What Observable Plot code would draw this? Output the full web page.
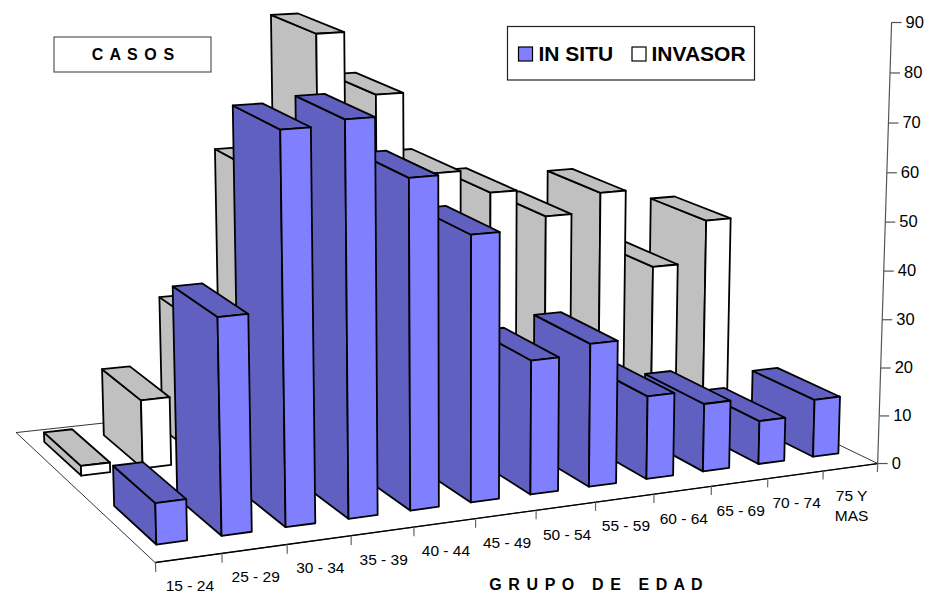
<!DOCTYPE html>
<html>
<head>
<meta charset="utf-8">
<script src="https://cdn.jsdelivr.net/npm/d3@7"></script>
<script src="https://cdn.jsdelivr.net/npm/@observablehq/plot@0.6"></script>
<style>
html,body{margin:0;padding:0;background:#fff}
svg{display:block}
</style>
</head>
<body>
<div id="chart"></div>
<script>
const categories = ["15 - 24","25 - 29","30 - 34","35 - 39","40 - 44","45 - 49","50 - 54","55 - 59","60 - 64","65 - 69","70 - 74","75 Y\nMAS"];
const inSitu  = [8,42,76,77,65,53,27,29,17,14,9,12];
const invasor = [2,14,28,58,85,72,55,50,44,48,31,40];
const valueTicks = [0,10,20,30,40,50,60,70,80,90];
const axisTitle = "G R U P O   D E   E D A D";
const wallTitle = "C A S O S";

// Perspective camera: category position u, depth w, value v -> page position
const cam = {x0:155,ax:68.55,bx:-136.9,cx:-0.185,ex:-0.95, y0:562,ay:-3.83,by:-73.8,cy:-5.47,ey:0.6, k:0.00954,m:0.13,n:-0.000401};
function project(u,w,v){
  const d = 1 + cam.k*u + cam.m*w + cam.n*v;
  return [(cam.x0+cam.ax*u+cam.bx*w+cam.cx*v+cam.ex*u*w)/d, (cam.y0+cam.ay*u+cam.by*w+cam.cy*v+cam.ey*u*w)/d];
}
const gap = 0.265;
const series = [
  {name:"INVASOR", values:invasor, w0:0.625, w1:0.905, dark:"#c0c0c0", light:"#ffffff"},
  {name:"IN SITU", values:inSitu,  w0:0.108,w1:0.39, dark:"#6060c0", light:"#8080ff"}
];
const faces = [];
function face(id,fill,corners){
  for(const [u,w,v] of corners){ const [x,y]=project(u,w,v); faces.push({id,fill,x,y}); }
}
for(const s of series){
  for(let i=categories.length-1;i>=0;i--){
    const u0=i+gap,u1=i+1-gap,v=s.values[i],{w0,w1}=s;
    face(s.name+i+"side",s.dark,[[u0,w0,0],[u0,w1,0],[u0,w1,v],[u0,w0,v]]);
    face(s.name+i+"top",s.dark,[[u0,w0,v],[u1,w0,v],[u1,w1,v],[u0,w1,v]]);
    face(s.name+i+"front",s.light,[[u0,w0,0],[u1,w0,0],[u1,w0,v],[u0,w0,v]]);
  }
}
const n = categories.length;
const pt = ([x,y])=>({x,y});
const floor = [[0,0,0],[n,0,0],[n,1,0],[0,1,0]].map(c=>pt(project(...c)));
const frontEdge = [[0,0,0],[n,0,0]].map(c=>pt(project(...c)));
const wallAxis = [[n,0,0],[n,0,90]].map(c=>pt(project(...c)));
const uTicks = d3.range(n+1).map(i=>{const a=project(i,0,0),b=project(i,0,-1.8);return {x1:a[0],y1:a[1],x2:b[0],y2:b[1]};});
const vRows = valueTicks.map(v=>{const a=project(n,0,v);return {v,x:a[0],y:a[1]};});
const catRows = categories.map((c,i)=>{const a=project(i+0.5,0,0);return {c,x:a[0],y:a[1]};});

const plot = Plot.plot({
  width:930,height:593,margin:0,
  x:{domain:[0,930],range:[0,930],axis:null},
  y:{domain:[0,593],range:[0,593],axis:null},
  color:{type:"identity"},
  style:{fontFamily:"'Liberation Sans',Arial,sans-serif",background:"#fff",color:"#000"},
  marks:[
    Plot.line(floor,{x:"x",y:"y",curve:"linear-closed",fill:"#fff",stroke:"#000",strokeWidth:0.8}),
    Plot.line(frontEdge,{x:"x",y:"y",stroke:"#000",strokeWidth:1.3}),
    Plot.line(wallAxis,{x:"x",y:"y",stroke:"#555",strokeWidth:1.2}),
    Plot.link(uTicks,{x1:"x1",y1:"y1",x2:"x2",y2:"y2",stroke:"#666",strokeWidth:1.2}),
    Plot.link(vRows,{x1:"x",y1:"y",x2:d=>d.x+10,y2:"y",stroke:"#555",strokeWidth:1.2}),
    Plot.text(vRows,{x:"x",y:"y",text:d=>String(d.v),dx:14,textAnchor:"start",fontSize:16.5,fill:"#000"}),
    Plot.text(catRows,{x:"x",y:"y",text:"c",dx:1,dy:19,lineAnchor:"top",lineHeight:1.3,fontSize:15.5,fill:"#000"}),
    Plot.line(faces,{x:"x",y:"y",z:"id",fill:"fill",stroke:"#000",strokeWidth:1.8,strokeLinejoin:"round",curve:"linear-closed"}),
    // title box
    Plot.rect([{}],{x1:()=>54,x2:()=>211,y1:()=>37,y2:()=>72,fill:"#fff",stroke:"#555",strokeWidth:1.2}),
    Plot.text([wallTitle],{x:()=>133,y:()=>54,text:d=>d,fontSize:16,fontWeight:"bold",fill:"#000"}),
    // legend box
    Plot.rect([{}],{x1:()=>507.5,x2:()=>754.5,y1:()=>26.5,y2:()=>80,fill:"#fff",stroke:"#222",strokeWidth:1.2}),
    Plot.rect(series,{x1:d=>d.name==="IN SITU"?518.5:632,x2:d=>d.name==="IN SITU"?532.5:646,y1:()=>47,y2:()=>61,fill:"light",stroke:"#000",strokeWidth:1.2}),
    Plot.text(series,{x:d=>d.name==="IN SITU"?538:651,y:()=>54,text:"name",textAnchor:"start",fontSize:21,fontWeight:"bold",fill:"#000"}),
    // category axis title
    Plot.text([axisTitle],{x:()=>596,y:()=>584,text:d=>d,fontSize:16,fontWeight:"bold",fill:"#000"})
  ]
});
plot.querySelectorAll("text").forEach(t=>{
  t.style.whiteSpace="pre";
  if(t.textContent===axisTitle||t.textContent===wallTitle) t.style.letterSpacing="1.1px";
});
document.getElementById("chart").appendChild(plot);
</script>
</body>
</html>
